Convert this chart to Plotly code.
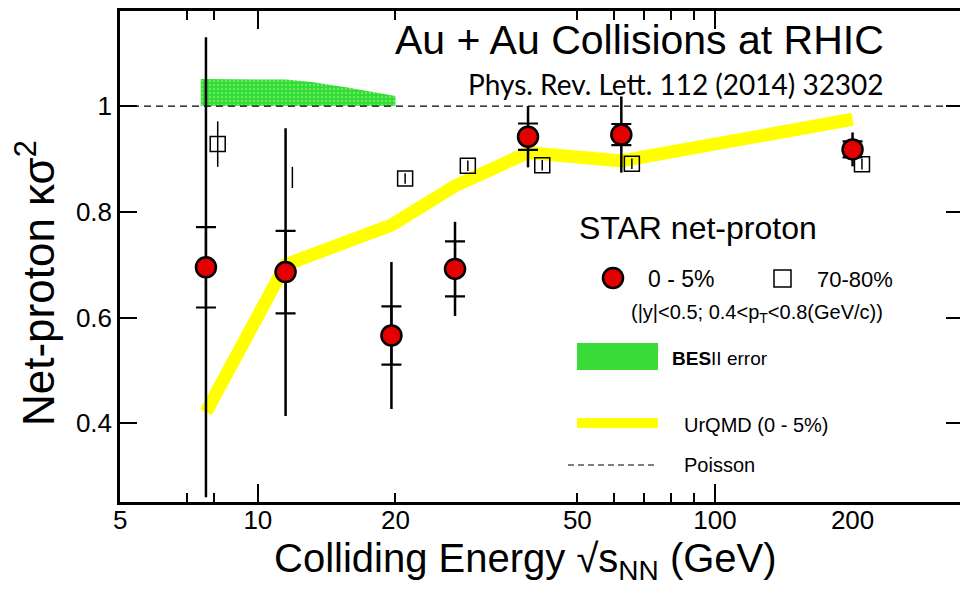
import math
import plotly.graph_objects as go

# ---------------- data ----------------
energy = [7.7, 11.5, 19.6, 27, 39, 62.4, 200]
central_k = [0.695, 0.686, 0.566, 0.692, 0.942, 0.946, 0.918]
central_stat = [0.435, 0.272, 0.139, 0.089, 0.058, 0.072, 0.032]
central_sys = [0.076, 0.078, 0.055, 0.052, 0.025, 0.020, 0.015]

periph_x = [8.17, 11.9, 21.0, 28.8, 41.9, 65.8, 209.7]
periph_k = [0.928, 0.865, 0.863, 0.887, 0.888, 0.891, 0.890]
periph_err = [0.043, 0.020, 0.010, 0.010, 0.010, 0.010, 0.010]
periph_shown = [1, 0, 1, 1, 1, 1, 1]

urqmd_x = [7.7, 11.5, 19.6, 27, 39, 62.4, 200]
urqmd_k = [0.421, 0.700, 0.775, 0.849, 0.912, 0.896, 0.975]

besii_x = [7.5, 9.0, 11.5, 13.0, 15.7, 20.0]
besii_hi = [1.051, 1.051, 1.050, 1.046, 1.035, 1.019]
poisson = 1.0

x_ticks = [5, 10, 20, 50, 100, 200]
x_major = [10, 100]
x_minor = [7, 8, 20, 50, 60, 70, 80, 90]
y_ticks = [0.4, 0.6, 0.8, 1.0]
y_ticktext = ["0.4", "0.6", "0.8", "1"]
x_range = [5, 343.6]
y_range = [0.2512, 1.1797]

FONT = "Liberation Sans, Arial, sans-serif"
W, H = 960, 601
L, R, T, B = 120, 960, 11, 502


def fx(px):
    return (px - L) / (R - L)


def fy(py):
    return (B - py) / (B - T)


fig = go.Figure()

# BES-II error band
fig.add_trace(go.Scatter(x=besii_x, y=[poisson] * len(besii_x), mode="lines",
                         line=dict(width=0, color="rgba(0,0,0,0)"), showlegend=False,
                         hoverinfo="skip"))
fig.add_trace(go.Scatter(x=besii_x, y=besii_hi, mode="lines", fill="tonexty",
                         line=dict(width=0, color="rgba(0,0,0,0)"),
                         fillcolor="#30dc30",
                         fillpattern=dict(shape=".", bgcolor="#30dc30", fgcolor="#a8f2a8",
                                          size=4, solidity=0.3),
                         showlegend=False, hoverinfo="skip"))

# UrQMD line
fig.add_trace(go.Scatter(x=urqmd_x, y=urqmd_k, mode="lines",
                         line=dict(color="#ffff00", width=13), showlegend=False))

# 70-80% open squares
fig.add_trace(go.Scatter(x=periph_x, y=periph_k, mode="markers",
                         marker=dict(symbol="square-open", size=15, color="black",
                                     opacity=periph_shown, line=dict(width=1.5, color="black")),
                         error_y=dict(type="data", array=periph_err, thickness=1.5, width=0,
                                      color="black"),
                         showlegend=False))

# 0-5% systematic caps
fig.add_trace(go.Scatter(x=energy, y=central_k, mode="markers",
                         marker=dict(size=2, color="rgba(0,0,0,0)"),
                         error_y=dict(type="data", array=central_sys, thickness=2.2, width=10,
                                      color="black"),
                         showlegend=False))
# 0-5% points with stat errors
fig.add_trace(go.Scatter(x=energy, y=central_k, mode="markers",
                         marker=dict(size=20, color="#e30000", line=dict(width=2.5, color="black")),
                         error_y=dict(type="data", array=central_stat, thickness=2.5, width=0,
                                      color="black"),
                         showlegend=False))

# dummy trace so the tick-only overlay axes are drawn
fig.add_trace(go.Scatter(x=[None], y=[None], xaxis="x2", yaxis="y2", showlegend=False,
                         hoverinfo="skip"))

shapes = [
    dict(type="line", xref="paper", x0=0, x1=1, yref="y", y0=poisson, y1=poisson,
         line=dict(color="black", width=1.2, dash="7px,5px")),
    # legend symbols
    dict(type="circle", xref="paper", yref="paper", x0=fx(603), x1=fx(623), y0=fy(288), y1=fy(268),
         fillcolor="#e30000", line=dict(color="black", width=2.5)),
    dict(type="rect", xref="paper", yref="paper", x0=fx(774), x1=fx(791), y0=fy(287), y1=fy(270),
         fillcolor="white", line=dict(color="black", width=1.5)),
    dict(type="rect", xref="paper", yref="paper", x0=fx(577), x1=fx(658), y0=fy(370), y1=fy(343),
         fillcolor="#3adc3a", line=dict(width=0)),
    dict(type="rect", xref="paper", yref="paper", x0=fx(577), x1=fx(658), y0=fy(428), y1=fy(418),
         fillcolor="#ffff00", line=dict(width=0)),
    dict(type="line", xref="paper", yref="paper", x0=fx(568), x1=fx(658), y0=fy(465), y1=fy(465),
         line=dict(color="black", width=1, dash="6px,4px")),
]


def ann(text, px, py, size, xanchor="left", family=FONT, angle=0):
    return dict(text=text, xref="paper", yref="paper", x=fx(px), y=fy(py),
                xanchor=xanchor, yanchor="middle", showarrow=False, textangle=angle,
                font=dict(family=family, size=size, color="black"))


annotations = [
    ann("Au + Au Collisions at RHIC", 886, 40, 41, "right"),
    ann("Phys. Rev. Lett. 112 (2014) 32302", 886, 84, 28, "right", family="Lato, Carlito, sans-serif"),
    ann("STAR net-proton", 577, 228, 32),
    ann("0 - 5%", 646, 279, 23),
    ann("70-80%", 815, 279, 22),
    ann("(|y|&lt;0.5; 0.4&lt;p<sub>T</sub>&lt;0.8(GeV/c))", 629, 313, 20),
    ann("<b>BES</b>II error", 670, 358, 19),
    ann("UrQMD (0 - 5%)", 682, 425, 20),
    ann("Poisson", 682, 465, 20),
    ann("Net-proton κσ<sup>2</sup>", 35, 283, 44, "center", angle=-90),
    ann("Colliding Energy √s<sub>NN</sub> (GeV)", 525, 561, 40, "center"),
]

logr = [math.log10(x_range[0]) - 0.0005, math.log10(x_range[1])]

fig.update_layout(
    width=W, height=H,
    margin=dict(l=L, r=W - R, t=T, b=H - B, pad=0),
    paper_bgcolor="white", plot_bgcolor="white",
    showlegend=False,
    shapes=shapes,
    annotations=annotations,
    xaxis=dict(type="log", range=logr, tickmode="array", tickvals=x_ticks,
               ticktext=[str(v) for v in x_ticks], ticks="", showline=True,
               linecolor="black", linewidth=2.5, mirror=True, showgrid=False, zeroline=False,
               ticklabelstandoff=-7,
               tickfont=dict(family=FONT, size=26, color="black"), automargin=False),
    xaxis2=dict(type="log", overlaying="x", matches="x", anchor="y2", side="bottom",
                tickmode="array", tickvals=x_major, ticks="inside", ticklen=18, tickwidth=1.5,
                tickcolor="black", showticklabels=False, showline=False, showgrid=False,
                zeroline=False, mirror="ticks",
                minor=dict(tickmode="array", tickvals=x_minor, ticks="inside", ticklen=9,
                           tickwidth=1.5, tickcolor="black", showgrid=False)),
    yaxis=dict(range=y_range, tickmode="array", tickvals=y_ticks, ticktext=y_ticktext,
               ticks="inside", ticklen=17, tickwidth=1.5, tickcolor="black",
               showline=True, linecolor="black", linewidth=2.5, mirror=False,
               showgrid=False, zeroline=False,
               tickfont=dict(family=FONT, size=26, color="black"), automargin=False),
    yaxis2=dict(overlaying="y", matches="y", anchor="x2", side="right",
                tickmode="array", tickvals=y_ticks, ticks="inside", ticklen=14, tickwidth=1.5,
                tickcolor="black", showticklabels=False, showline=False, showgrid=False,
                zeroline=False),
)

fig.write_html("out.html")
